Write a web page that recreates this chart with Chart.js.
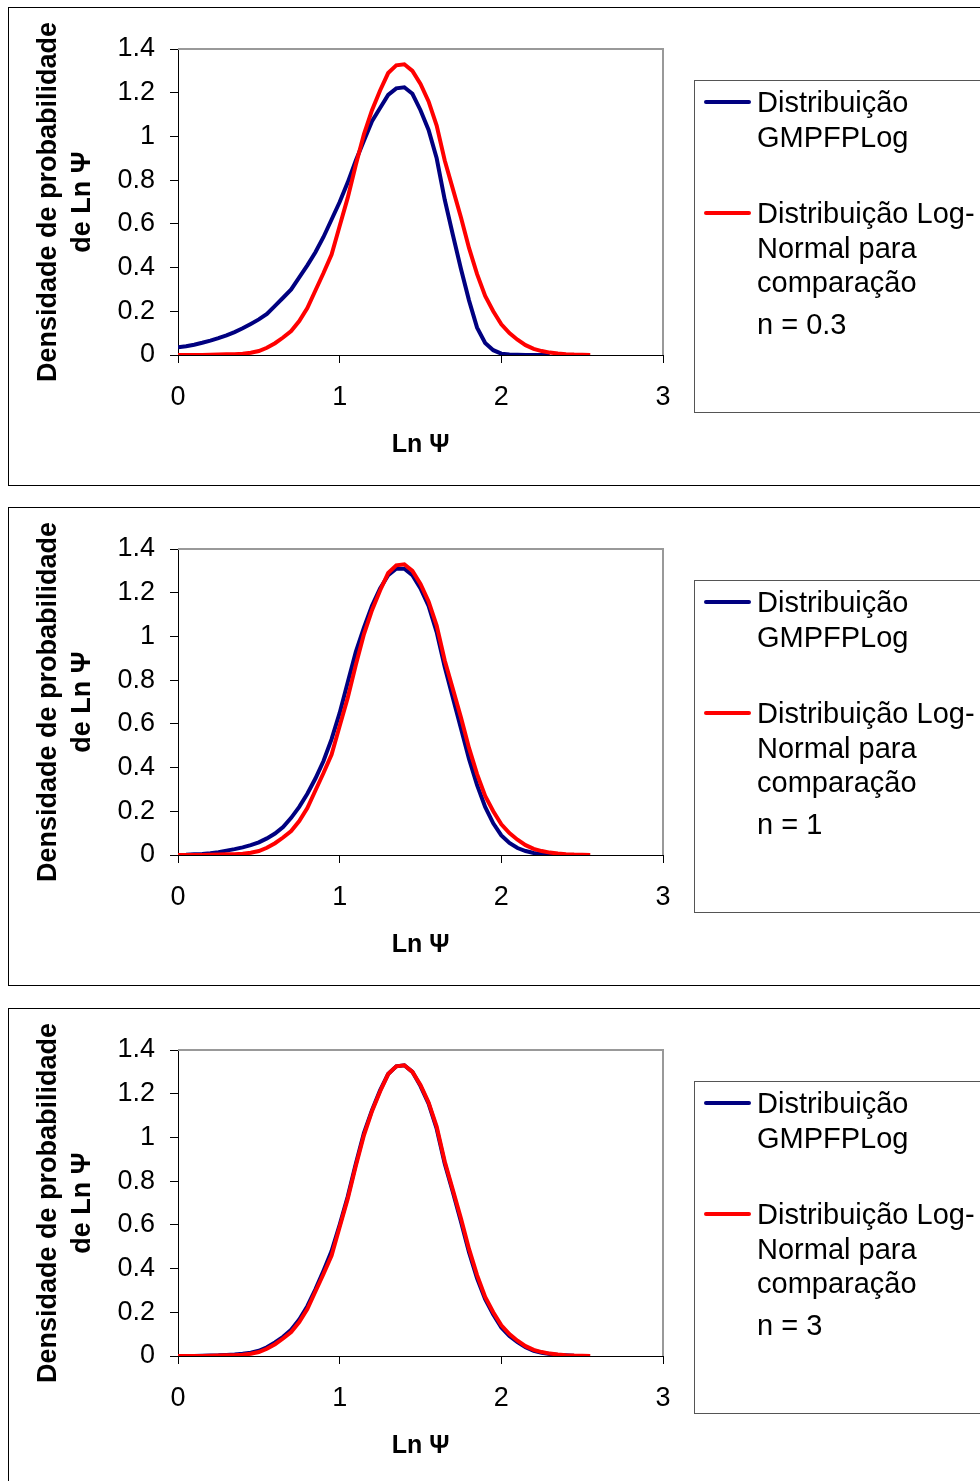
<!DOCTYPE html>
<html>
<head>
<meta charset="utf-8">
<script src="https://cdn.jsdelivr.net/npm/chart.js@4"></script>
<style>
  body { margin: 0; background: #fff; width: 980px; height: 1481px; overflow: hidden; position: relative; font-family: "Liberation Sans", Arial, sans-serif; }
  .painel { position: absolute; left: 8px; width: 1000px; height: 479px; border: 1px solid #000; box-sizing: border-box; }
  .painel canvas { position: absolute; left: 0; top: 0; }
  .legenda { position: absolute; left: 685px; top: 72px; width: 320px; height: 333px; border: 1px solid #555; box-sizing: border-box; }
  .legenda .amostra { position: absolute; left: 9px; width: 47px; height: 4px; border-radius: 2px; }
  .legenda .texto { position: absolute; left: 62px; font-size: 29px; line-height: 34.5px; color: #000; white-space: nowrap; }
</style>
</head>
<body>
<script>
// valores
const lnPsi = [0, 0.05, 0.1, 0.15, 0.2, 0.25, 0.3, 0.35, 0.4, 0.45,
    0.5, 0.55, 0.6, 0.65, 0.7, 0.75, 0.8, 0.85, 0.9, 0.95,
    1, 1.05, 1.1, 1.15, 1.2, 1.25, 1.3, 1.35, 1.4, 1.45,
    1.5, 1.55, 1.6, 1.65, 1.7, 1.75, 1.8, 1.85, 1.9, 1.95,
    2, 2.05, 2.1, 2.15, 2.2, 2.25, 2.3, 2.35, 2.4, 2.45,
    2.5, 2.55];

const logNormal = [0, 0, 0, 0, 0.001, 0.002, 0.003, 0.004, 0.006, 0.010,
    0.018, 0.033, 0.054, 0.080, 0.110, 0.155, 0.215, 0.295, 0.375, 0.46,
    0.59, 0.72, 0.87, 1.01, 1.12, 1.21, 1.29, 1.325, 1.33, 1.30,
    1.24, 1.16, 1.05, 0.89, 0.76, 0.63, 0.49, 0.37, 0.27, 0.20,
    0.14, 0.10, 0.07, 0.045, 0.028, 0.018, 0.011, 0.007, 0.004, 0.002,
    0.001, 0];

const gmpN03 = [0.035, 0.040, 0.047, 0.056, 0.066, 0.077, 0.090, 0.105, 0.122, 0.142,
    0.163, 0.188, 0.225, 0.262, 0.300, 0.355, 0.410, 0.470, 0.540, 0.620,
    0.70, 0.79, 0.89, 0.98, 1.07, 1.13, 1.19, 1.22, 1.225, 1.195,
    1.12, 1.03, 0.90, 0.71, 0.55, 0.395, 0.25, 0.125, 0.055, 0.022,
    0.006, 0.002, 0.001, 0, 0, 0, 0, null, null, null,
    null, null];

const gmpN1 = [0, 0.001, 0.003, 0.005, 0.008, 0.013, 0.020, 0.027, 0.035, 0.045,
    0.058, 0.076, 0.098, 0.128, 0.170, 0.220, 0.280, 0.350, 0.430, 0.530,
    0.65, 0.79, 0.93, 1.04, 1.14, 1.22, 1.28, 1.31, 1.31, 1.28,
    1.22, 1.14, 1.02, 0.86, 0.72, 0.58, 0.44, 0.32, 0.22, 0.145,
    0.09, 0.055, 0.032, 0.018, 0.009, 0.004, 0.002, 0.001, 0, null,
    null, null];

const gmpN3 = [0, 0, 0, 0.001, 0.002, 0.003, 0.005, 0.007, 0.010, 0.015,
    0.024, 0.040, 0.062, 0.088, 0.120, 0.167, 0.228, 0.305, 0.39, 0.48,
    0.60, 0.73, 0.88, 1.02, 1.125, 1.215, 1.29, 1.325, 1.33, 1.30,
    1.235, 1.155, 1.04, 0.88, 0.75, 0.615, 0.475, 0.355, 0.26, 0.19,
    0.13, 0.092, 0.063, 0.04, 0.024, 0.015, 0.009, 0.005, 0.003, 0.001,
    0, null];

const valoresN = ["0.3", "1", "3"];
const seriesGmp = [gmpN03, gmpN1, gmpN3];
const topoPaineis = [7, 507, 1008];

const nomeGmp = ["Distribuição", "GMPFPLog"];
const nomeLog = ["Distribuição Log-", "Normal para", "comparação"];
const tituloY = ["Densidade de probabilidade", "de Ln Ψ"];
const tituloX = "Ln Ψ";

Chart.defaults.font.family = '"Liberation Sans", Arial, sans-serif';
Chart.defaults.color = "#000";

const W = 972, H = 478;

// bordas cinza em cima e à direita da área do gráfico
const bordaCinza = {
    id: "bordaCinza",
    afterDraw(chart) {
        const { ctx, chartArea: a } = chart;
        ctx.save();
        ctx.strokeStyle = "#999";
        ctx.lineWidth = 2;
        ctx.beginPath();
        ctx.moveTo(a.left, a.top);
        ctx.lineTo(a.right, a.top);
        ctx.lineTo(a.right, a.bottom);
        ctx.stroke();
        ctx.restore();
    },
};

function pontos(ys) {
    return lnPsi.map((x, i) => ({ x, y: ys[i] }));
}

const rotulo = (v) => String(Math.round(v * 10) / 10);

function criarPainel(idx) {
    const painel = document.createElement("div");
    painel.className = "painel";
    painel.style.top = topoPaineis[idx] + "px";

    const canvas = document.createElement("canvas");
    canvas.width = W;
    canvas.height = H;
    canvas.style.width = W + "px";
    canvas.style.height = H + "px";
    painel.appendChild(canvas);

    const leg = document.createElement("div");
    leg.className = "legenda";
    leg.innerHTML = `
        <div class="amostra" style="top:19px;background:#000080"></div>
        <div class="texto" style="top:4px">${nomeGmp.join("<br>")}</div>
        <div class="amostra" style="top:130px;background:#ff0000"></div>
        <div class="texto" style="top:115px">${nomeLog.join("<br>")}</div>
        <div class="texto" style="top:226px">n = ${valoresN[idx]}</div>`;
    painel.appendChild(leg);
    document.body.appendChild(painel);

    new Chart(canvas.getContext("2d"), {
        type: "line",
        data: {
            datasets: [
                { label: nomeLog.join(" "), data: pontos(logNormal), borderColor: "#ff0000", borderWidth: 4, pointRadius: 0, tension: 0, order: 1 },
                { label: nomeGmp.join(" "), data: pontos(seriesGmp[idx]), borderColor: "#000080", borderWidth: 4, pointRadius: 0, tension: 0, order: 2 },
            ],
        },
        options: {
            responsive: false,
            animation: false,
            devicePixelRatio: 1,
            layout: { padding: { left: 0, top: 41, right: W - 654, bottom: 0 } },
            plugins: { legend: { display: false }, tooltip: { enabled: false } },
            scales: {
                x: {
                    type: "linear",
                    min: 0,
                    max: 3,
                    ticks: { stepSize: 1, padding: 18, font: { size: 27 }, callback: rotulo },
                    grid: { drawOnChartArea: false, drawTicks: true, tickLength: 8, color: "#000" },
                    border: { display: true, color: "#000", width: 1 },
                    title: { display: true, text: tituloX, font: { size: 25, weight: "bold", lineHeight: 1.2 }, padding: { top: 0, bottom: 26 } },
                    afterFit: (s) => { s.height = H - 347; },
                },
                y: {
                    min: 0,
                    max: 1.4,
                    ticks: { stepSize: 0.2, padding: 15, font: { size: 27 }, callback: rotulo },
                    grid: { drawOnChartArea: false, drawTicks: true, tickLength: 8, color: "#000" },
                    border: { display: true, color: "#000", width: 1 },
                    title: { display: true, text: tituloY, font: { size: 27, weight: "bold", lineHeight: 1.26 }, padding: { top: 23, bottom: 0 } },
                    afterFit: (s) => { s.width = 169; },
                },
            },
        },
        plugins: [bordaCinza],
    });
}

[0, 1, 2].forEach(criarPainel);
</script>
</body>
</html>
